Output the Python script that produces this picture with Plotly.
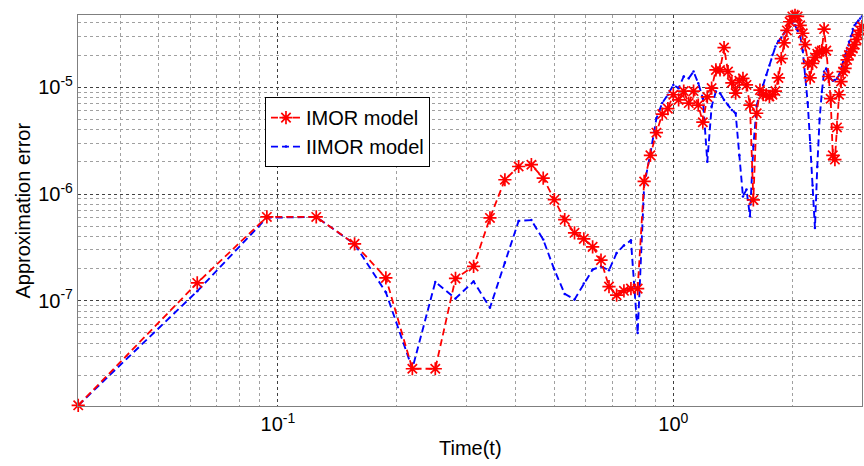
import plotly.graph_objects as go

time_t = [0.03125, 0.0625, 0.09375, 0.125, 0.15625, 0.1875, 0.21875, 0.25,
          0.28125, 0.3125, 0.34375, 0.375, 0.40625, 0.4375, 0.46875, 0.5,
          0.53125, 0.5625, 0.59375, 0.625, 0.65625, 0.6875, 0.71875, 0.75,
          0.78125, 0.8125, 0.84375, 0.875, 0.90625, 0.9375, 0.96875, 1.0,
          1.03125, 1.0625, 1.09375, 1.125, 1.15625, 1.1875, 1.21875, 1.25,
          1.28125, 1.3125, 1.34375, 1.375, 1.40625, 1.4375, 1.46875, 1.5,
          1.53125, 1.5625, 1.59375, 1.625, 1.65625, 1.6875, 1.71875, 1.75,
          1.78125, 1.8125, 1.84375, 1.875, 1.90625, 1.9375, 1.96875, 2.0,
          2.03125, 2.0625, 2.09375, 2.125, 2.15625, 2.1875, 2.21875, 2.25,
          2.28125, 2.3125, 2.34375, 2.375, 2.40625, 2.4375, 2.46875, 2.5,
          2.53125, 2.5625, 2.59375, 2.625, 2.65625, 2.6875, 2.71875, 2.75,
          2.78125, 2.8125, 2.84375, 2.875, 2.90625, 2.9375, 2.96875, 3.0]

imor_err = [1.05e-8, 1.47e-7, 6.1e-7, 6.1e-7, 3.41e-7, 1.64e-7, 2.31e-8, 2.31e-8,
            1.62e-7, 2.1e-7, 5.97e-7, 1.36e-6, 1.81e-6, 1.88e-6, 1.41e-6, 8.85e-7,
            5.75e-7, 4.33e-7, 3.8e-7, 3.2e-7, 2.4e-7, 1.36e-7, 1.13e-7, 1.24e-7,
            1.3e-7, 1.3e-7, 1.31e-6, 2.3e-6, 3.75e-6, 5.6e-6, 6.3e-6, 8.5e-6,
            7.6e-6, 9.2e-6, 7.1e-6, 9.2e-6, 6.8e-6, 4.7e-6, 8.1e-6, 9.8e-6,
            1.45e-5, 1.45e-5, 2.35e-5, 1.4e-5, 1.1e-5, 8.8e-6, 1.15e-5, 1.21e-5,
            1.05e-5, 6.8e-6, 8.8e-7, 5.7e-6, 9.4e-6, 8.5e-6, 8.5e-6, 8.2e-6,
            8.5e-6, 9.2e-6, 1.22e-5, 1.85e-5, 2.6e-5, 3.4e-5, 4.1e-5, 4.6e-5,
            4.7e-5, 4.6e-5, 3.8e-5, 3.2e-5, 2.5e-5, 1.67e-5, 1.22e-5, 1.67e-5,
            1.9e-5, 2.05e-5, 2.15e-5, 2.2e-5, 3.5e-5, 2.2e-5, 1.26e-5, 7.8e-6,
            2.3e-6, 2.1e-6, 4.2e-6, 8.5e-6, 1.13e-5, 1.4e-5, 1.5e-5, 1.8e-5,
            2.0e-5, 2.15e-5, 2.3e-5, 2.5e-5, 2.8e-5, 3.1e-5, 3.4e-5, 3.7e-5]

iimor_err = [1.05e-8, 1.23e-7, 6.0e-7, 6.1e-7, 3.4e-7, 1.2e-7, 2.31e-8, 1.5e-7,
             1.05e-7, 1.52e-7, 8.6e-8, 2.27e-7, 5.6e-7, 5.7e-7, 3.74e-7, 1.96e-7,
             1.16e-7, 1.03e-7, 1.45e-7, 1.96e-7, 2.1e-7, 1.93e-7, 2.8e-7, 3.3e-7,
             3.68e-7, 5.0e-8, 1.2e-6, 2.4e-6, 5.1e-6, 7.1e-6, 8.5e-6, 1.05e-5,
             9.8e-6, 1.26e-5, 1.21e-5, 1.4e-5, 1.09e-5, 7.9e-6, 2.0e-6, 6.6e-6,
             9.1e-6, 8.8e-6, 7.6e-6, 6.8e-6, 6.1e-6, 5.7e-6, 2.3e-6, 9.5e-7,
             1.1e-6, 6.2e-7, 2.8e-6, 6.6e-6, 9.4e-6, 1.05e-5, 1.3e-5, 1.6e-5,
             2.0e-5, 2.4e-5, 2.7e-5, 2.9e-5, 3.2e-5, 3.55e-5, 4.1e-5, 4.0e-5,
             3.8e-5, 3.4e-5, 3.0e-5, 2.2e-5, 1.26e-5, 7.1e-6, 3.0e-6, 1.2e-6,
             4.8e-7, 1.8e-6, 5.0e-6, 9.0e-6, 1.4e-5, 1.5e-5, 1.3e-5, 1.2e-5,
             1.15e-5, 1.17e-5, 1.2e-5, 1.3e-5, 1.5e-5, 1.7e-5, 2.0e-5, 2.3e-5,
             2.67e-5, 3.0e-5, 3.5e-5, 3.8e-5, 4.0e-5, 4.2e-5, 4.4e-5, 4.6e-5]

x_tickvals = [0.1, 1.0]
x_ticktext = ["10<sup>-1</sup>", "10<sup>0</sup>"]
y_tickvals = [1e-7, 1e-6, 1e-5]
y_ticktext = ["10<sup>-7</sup>", "10<sup>-6</sup>", "10<sup>-5</sup>"]

series_names = ["IMOR model", "IIMOR model"]
x_title = "Time(t)"
y_title = "Approximation error"

FONT = "Liberation Sans, Arial, sans-serif"

fig = go.Figure()
fig.add_trace(go.Scatter(
    x=time_t, y=iimor_err, name=series_names[1], mode="lines+markers",
    line=dict(color="#0000ff", width=1.9, dash="7px,4px"),
    marker=dict(symbol="circle", size=2.5, color="#0000ff"),
    cliponaxis=False,
))
fig.add_trace(go.Scatter(
    x=time_t, y=imor_err, name=series_names[0], mode="lines+markers",
    line=dict(color="#ff0000", width=1.8, dash="7px,4px"),
    marker=dict(symbol="asterisk-open", size=11, color="#ff0000",
                line=dict(color="#ff0000", width=1.7)),
    cliponaxis=False,
))

axis_common = dict(
    type="log",
    tickmode="array",
    showline=True, linecolor="#7f7f7f", linewidth=1.2, mirror=True,
    showgrid=True, gridcolor="#404040", griddash="dot", gridwidth=1,
    zeroline=False,
    ticks="",
    automargin=False,
    tickfont=dict(family=FONT, size=20, color="#000000"),
    minor=dict(dtick="D1", showgrid=True, gridcolor="#a0a0a0",
               griddash="dot", gridwidth=1, ticks=""),
)

fig.update_layout(
    width=864, height=466,
    margin=dict(l=78, r=2, t=15, b=60),
    paper_bgcolor="white", plot_bgcolor="white",
    font=dict(family=FONT, size=20, color="#000000"),
    showlegend=True,
    legend=dict(
        x=0.2385, y=0.79, xanchor="left", yanchor="top",
        bgcolor="white", bordercolor="#000000", borderwidth=1,
        font=dict(family=FONT, size=20, color="#000000"),
        tracegroupgap=0, itemwidth=30, traceorder="reversed",
    ),
    xaxis=dict(axis_common, range=[-1.5057, 0.4772],
               tickvals=x_tickvals, ticktext=x_ticktext),
    yaxis=dict(axis_common, range=[-7.985, -4.324],
               tickvals=y_tickvals, ticktext=y_ticktext),
    annotations=[
        dict(text=x_title, xref="paper", yref="paper", x=0.5, y=-0.107,
             xanchor="center", yanchor="middle", showarrow=False,
             font=dict(family=FONT, size=20, color="#000000")),
        dict(text=y_title, xref="paper", yref="paper", x=-0.0714, y=0.5,
             xanchor="center", yanchor="middle", showarrow=False,
             textangle=-90,
             font=dict(family=FONT, size=20, color="#000000")),
    ],
)

fig.write_html(
    "out.html",
    config={"displayModeBar": False},
    post_script="document.body.style.margin='0px';document.body.style.overflow='hidden';",
)
